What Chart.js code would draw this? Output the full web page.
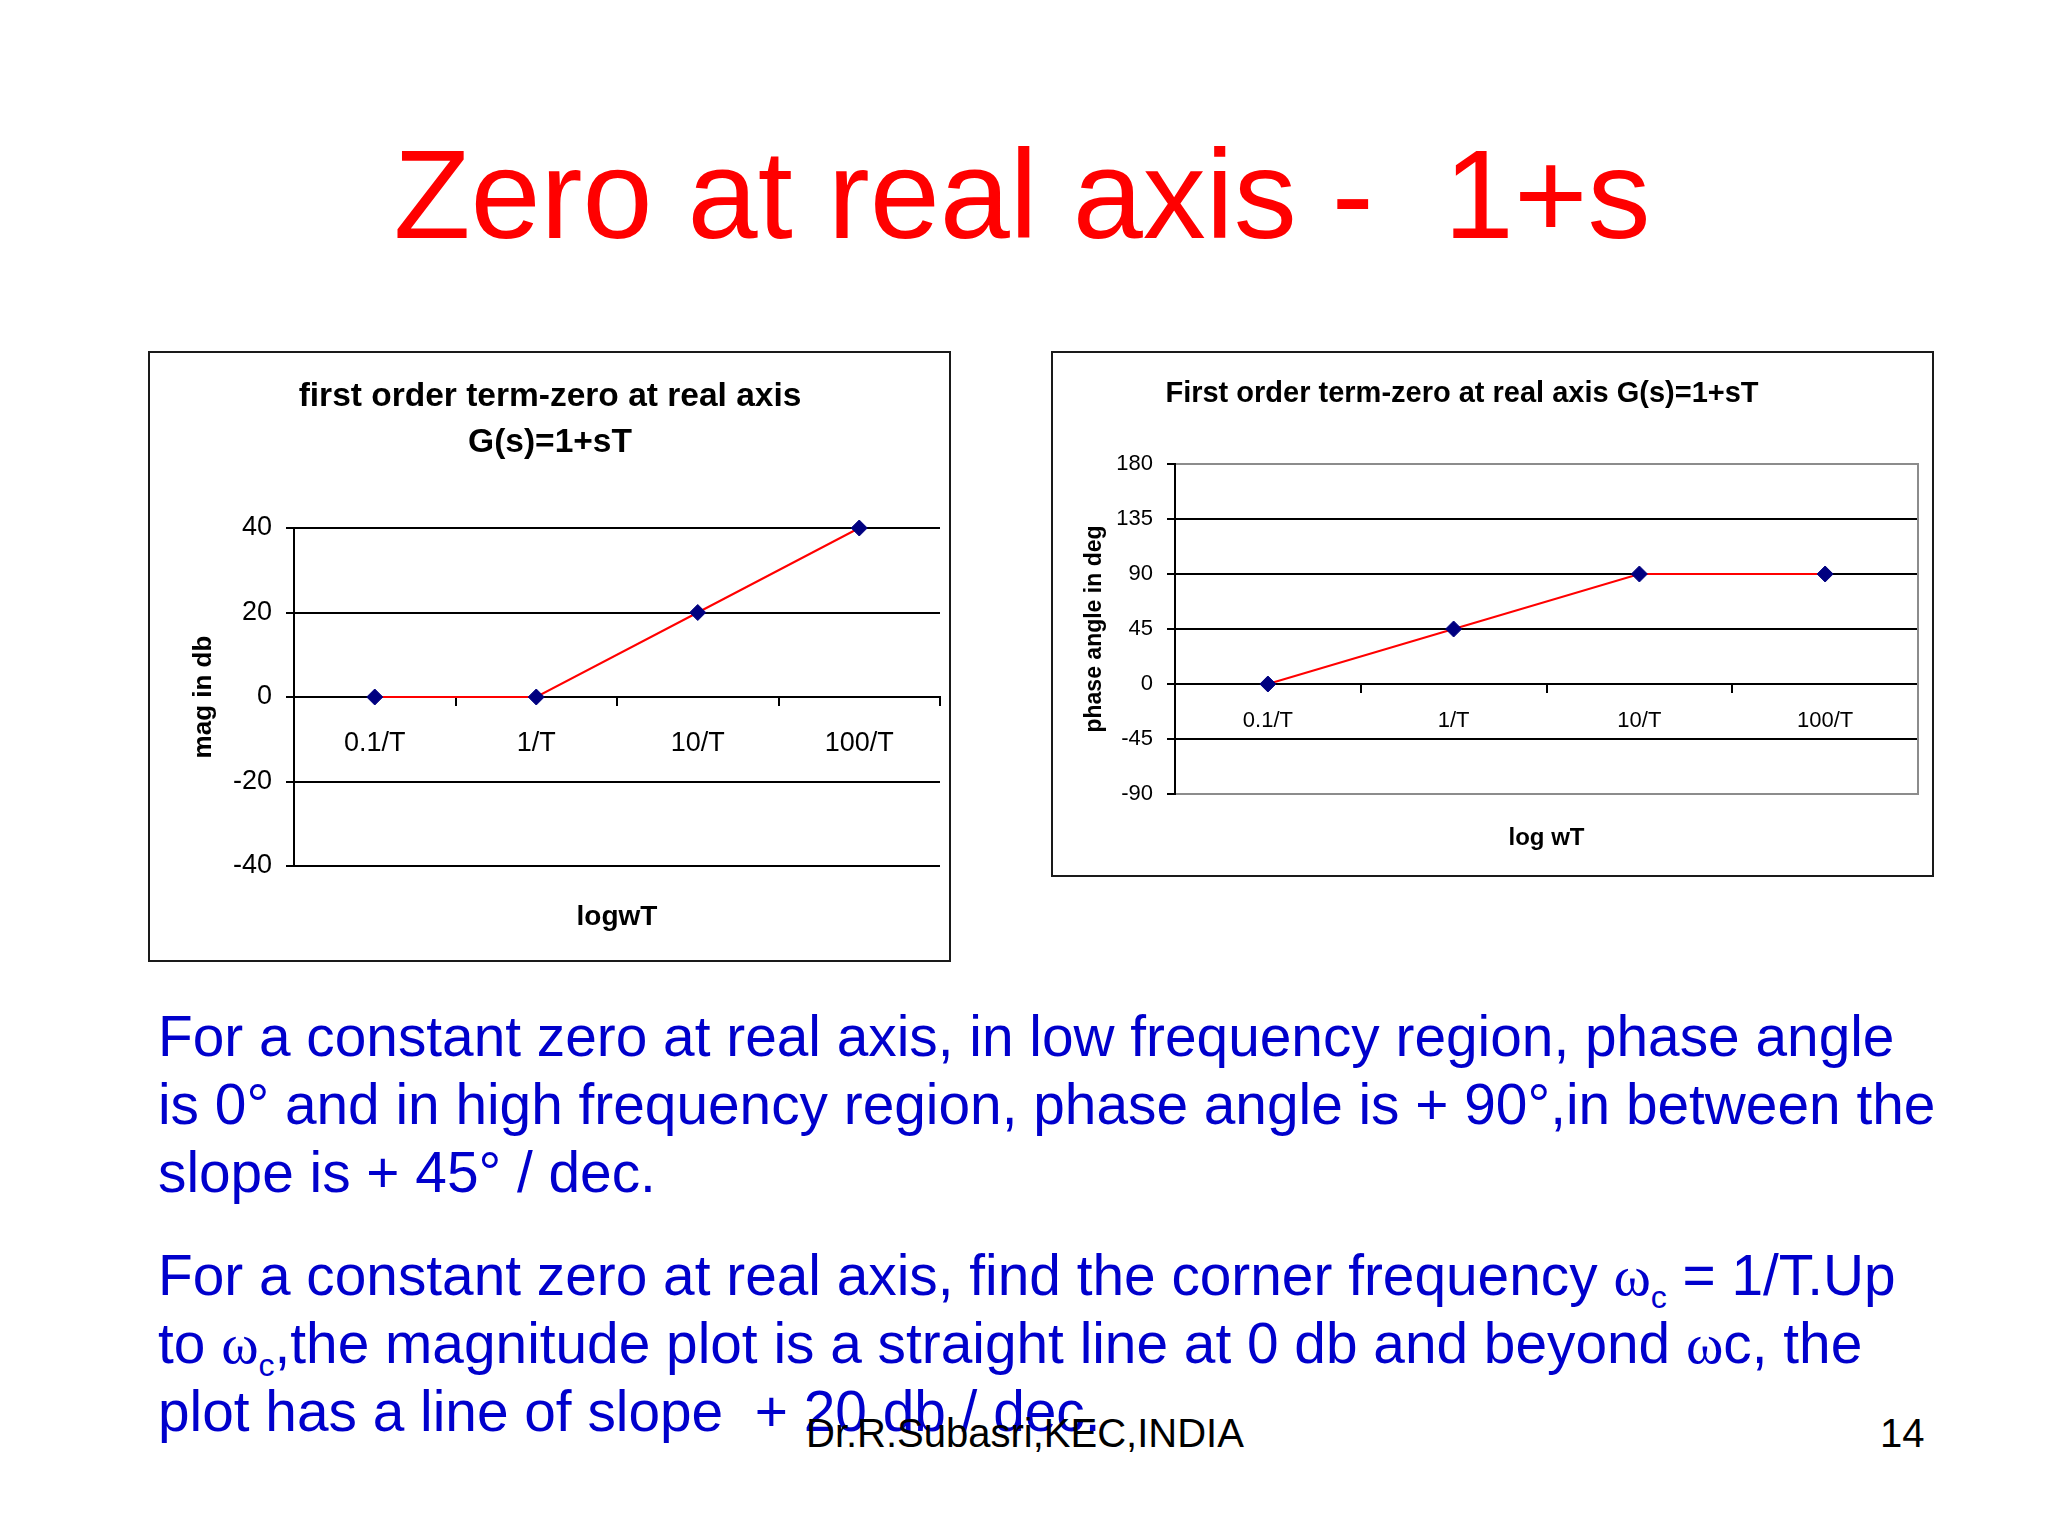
<!DOCTYPE html>
<html>
<head>
<meta charset="utf-8">
<title>Zero at real axis - 1+s</title>
<script src="https://cdn.jsdelivr.net/npm/chart.js@4.4.1/dist/chart.umd.min.js"></script>
<style>
  html, body { margin: 0; padding: 0; background: #fff; }
  body { width: 2048px; height: 1536px; position: relative; overflow: hidden; font-family: "Liberation Sans", Arial, sans-serif; }
  .slide-title { position: absolute; left: -2px; top: 132px; width: 2048px; text-align: center; font-size: 126px; line-height: 126px; color: #ff0000; white-space: pre; }
  .box { position: absolute; border: 2px solid #1a1a1a; background: #fff; }
  .box canvas { position: absolute; left: 0; top: 0; }
  .para { position: absolute; left: 158px; font-size: 56.8px; line-height: 68px; color: #0000cc; white-space: pre; }
  .w { font-family: "Liberation Serif", "Times New Roman", serif; line-height: 0; }
  .sub { font-size: 32px; position: relative; top: 13px; line-height: 0; }
  .footer { position: absolute; top: 1413px; font-size: 40px; line-height: 40px; color: #000; white-space: pre; }
</style>
</head>
<body>
<div class="slide-title">Zero at real axis -  1+s</div>

<div class="box" style="left:148px; top:351px; width:799px; height:607px;">
  <canvas id="magChart" width="799" height="607"></canvas>
</div>
<div class="box" style="left:1051px; top:351px; width:879px; height:522px;">
  <canvas id="phaseChart" width="879" height="522"></canvas>
</div>

<div class="para" style="top:1003px;">For a constant zero at real axis, in low frequency region, phase angle
is 0° and in high frequency region, phase angle is + 90°,in between the
slope is + 45° / dec.</div>
<div class="para" style="top:1242px;">For a constant zero at real axis, find the corner frequency <span class="w">ω</span><span class="sub">c</span> = 1/T.Up
to <span class="w">ω</span><span class="sub">c</span>,the magnitude plot is a straight line at 0 db and beyond <span class="w">ω</span>c, the
plot has a line of slope  + 20 db / dec.</div>
<div class="footer" style="left:806px;">Dr.R.Subasri,KEC,INDIA</div>
<div class="footer" style="left:1880px;">14</div>

<script>
// data
const freqLabels = ['0.1/T', '1/T', '10/T', '100/T'];
const magDb = [0, 0, 20, 40];
const phaseDeg = [0, 45, 90, 90];
const magTicks = [-40, -20, 0, 20, 40];
const phaseTicks = [-90, -45, 0, 45, 90, 135, 180];

const FONT = '"Liberation Sans", Arial, sans-serif';

// draws the chart heading at a fixed spot inside the canvas
const headingPlugin = {
    id: 'heading',
    afterDraw(chart, args, opts) {
        const ctx = chart.ctx;
        ctx.save();
        ctx.font = 'bold ' + opts.size + 'px ' + FONT;
        ctx.fillStyle = '#000';
        ctx.textAlign = 'center';
        ctx.textBaseline = 'alphabetic';
        opts.lines.forEach(function(t, i) {
            ctx.fillText(t, opts.x, opts.y + i * opts.lineHeight);
        });
        ctx.restore();
    }
};

function makeChart(id, cfg) {
    const ctx = document.getElementById(id).getContext('2d');
    return new Chart(ctx, {
        type: 'line',
        data: {
            labels: freqLabels,
            datasets: [{
                data: cfg.values,
                xAxisID: 'x',
                yAxisID: 'y',
                borderColor: '#ff0000',
                borderWidth: 2,
                tension: 0,
                clip: false,
                pointStyle: 'rectRot',
                pointRadius: 8,
                pointBackgroundColor: '#000080',
                pointBorderColor: '#000080',
                pointBorderWidth: 1
            }]
        },
        plugins: [headingPlugin],
        options: {
            responsive: false,
            animation: false,
            devicePixelRatio: 1,
            layout: { padding: cfg.padding },
            plugins: {
                legend: { display: false },
                tooltip: { enabled: false },
                heading: cfg.heading
            },
            scales: {
                x: {
                    type: 'category',
                    position: { y: 0 },
                    offset: true,
                    grid: { offset: true, drawOnChartArea: false, drawTicks: true, tickLength: 8, color: '#000', lineWidth: 2 },
                    border: { color: '#000', width: 2 },
                    ticks: { color: '#000', padding: cfg.xTickPad, font: { family: FONT, size: cfg.tickSize } }
                },
                xt: {
                    type: 'category',
                    position: 'bottom',
                    offset: true,
                    grid: { display: false },
                    border: { display: false },
                    ticks: { display: false },
                    title: {
                        display: true,
                        text: cfg.xTitle,
                        color: '#000',
                        font: { family: FONT, size: cfg.xTitleSize, weight: 'bold' },
                        padding: { top: 0, bottom: cfg.xTitlePad }
                    },
                    afterFit: function(s) { s.height = cfg.xtHeight; }
                },
                y: {
                    min: cfg.ticks[0],
                    max: cfg.ticks[cfg.ticks.length - 1],
                    ticks: {
                        stepSize: cfg.ticks[1] - cfg.ticks[0],
                        color: '#000',
                        padding: cfg.yTickPad,
                        font: { family: FONT, size: cfg.tickSize }
                    },
                    grid: {
                        color: cfg.gridColor,
                        tickColor: '#000',
                        lineWidth: 2,
                        tickLength: 8
                    },
                    border: { color: '#000', width: 2 },
                    title: {
                        display: true,
                        text: cfg.yTitle,
                        color: '#000',
                        font: { family: FONT, size: cfg.yTitleSize, weight: 'bold' },
                        padding: { top: cfg.yTitlePad, bottom: 0 }
                    },
                    afterFit: function(s) { s.width = cfg.yWidth; }
                },
                yr: {
                    position: 'right',
                    display: cfg.rightBorder,
                    ticks: { display: false },
                    grid: { drawOnChartArea: false, drawTicks: false },
                    border: { color: '#8c8c8c', width: 2 },
                    afterFit: function(s) { s.width = 0; }
                }
            }
        }
    });
}

// magnitude plot
makeChart('magChart', {
    values: magDb,
    ticks: magTicks,
    padding: { top: 175, left: 0, right: 9, bottom: 0 },
    heading: { lines: ['first order term-zero at real axis', 'G(s)=1+sT'], x: 400, y: 53, lineHeight: 46, size: 33.5 },
    tickSize: 27,
    xTickPad: 22,
    yTickPad: 14,
    xTitle: 'logwT',
    xTitleSize: 28,
    xTitlePad: 26,
    xtHeight: 94,
    yTitle: 'mag in db',
    yTitleSize: 26,
    yTitlePad: 38,
    yWidth: 144,
    gridColor: '#000',
    rightBorder: false
});

// phase plot
makeChart('phaseChart', {
    values: phaseDeg,
    ticks: phaseTicks,
    padding: { top: 111, left: 0, right: 14, bottom: 0 },
    heading: { lines: ['First order term-zero at real axis G(s)=1+sT'], x: 409, y: 49, lineHeight: 0, size: 29 },
    tickSize: 22,
    xTickPad: 16,
    yTickPad: 14,
    xTitle: 'log wT',
    xTitleSize: 24,
    xTitlePad: 22,
    xtHeight: 81,
    yTitle: 'phase angle in deg',
    yTitleSize: 23,
    yTitlePad: 28,
    yWidth: 122,
    gridColor: function(c) {
        const v = c.tick ? c.tick.value : null;
        return (v === phaseTicks[0] || v === phaseTicks[phaseTicks.length - 1]) ? '#8c8c8c' : '#000';
    },
    rightBorder: true
});
</script>
</body>
</html>
